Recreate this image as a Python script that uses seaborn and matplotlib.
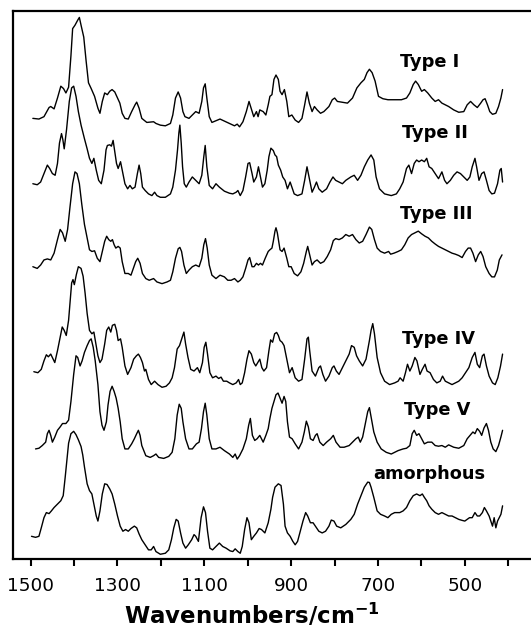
import matplotlib
matplotlib.use("Agg")
import matplotlib.pyplot as plt
import numpy as np
import pandas as pd
import seaborn as sns

# ---------------- data (wavenumber in cm-1, relative absorbance in a.u.) ----------------
type1_wn = [1494.6,1480.6,1469.0,1457.3,1453.4,1445.7,1437.9,1430.2,1424.0,1418.5,
            1412.3,1406.9,1403.0,1397.6,1391.3,1387.5,1383.6,1377.4,1372.0,1366.5,
            1360.3,1352.5,1344.8,1340.1,1334.7,1329.2,1323.0,1317.6,1312.2,1306.0,
            1299.7,1294.3,1288.9,1282.6,1274.9,1267.1,1259.3,1255.5,1250.0,1243.8,
            1232.2,1216.6,1211.2,1201.1,1189.5,1177.8,1172.4,1166.2,1160.0,1154.5,
            1149.1,1144.4,1135.1,1127.4,1119.6,1111.8,1105.6,1101.7,1097.8,1094.0,
            1088.5,1082.3,1063.7,1042.0,1030.3,1024.1,1018.7,1010.9,1003.1,996.9,
            991.5,986.0,979.8,976.0,972.1,964.3,958.1,952.7,948.8,944.1,
            939.5,934.8,929.4,925.5,920.8,915.4,909.9,905.3,898.3,890.6,
            882.8,875.0,868.8,863.4,858.0,851.7,846.3,840.1,832.3,824.6,
            812.9,805.2,799.7,793.5,770.2,758.6,748.5,739.2,731.4,725.2,
            719.7,713.5,706.6,698.8,688.7,677.0,660.0,646.0,634.3,626.6,
            618.8,613.4,607.2,599.4,593.2,585.4,576.1,568.3,560.6,552.8,
            537.3,525.6,514.0,502.4,494.6,486.8,479.1,471.3,463.5,458.1,
            453.4,447.9,442.6,436.3,428.6,422.4,417.0,413.1]
type1_int = [2.2,2.0,2.7,5.4,5.7,5.0,8.2,11.7,11.0,9.7,
             11.4,20.7,28.7,29.7,31.2,32.0,29.7,26.2,19.2,12.7,
             11.0,8.7,5.2,3.7,7.2,9.7,9.2,10.2,10.7,10.0,
             8.2,6.7,3.7,2.2,2.0,4.2,6.2,7.0,5.2,2.2,
             1.0,1.2,0.7,0.2,0.0,0.7,3.2,8.2,10.0,8.2,
             4.2,2.7,2.2,3.2,4.2,3.7,7.2,11.2,12.4,8.2,
             2.7,1.0,2.0,0.7,0.0,0.5,-0.3,1.2,4.2,7.2,
             5.0,2.7,4.2,2.7,4.7,4.2,3.2,6.2,8.7,9.2,
             13.7,15.0,13.7,10.2,9.2,10.7,7.2,2.7,3.2,1.7,
             1.0,2.2,6.2,10.0,6.7,4.2,5.7,4.7,3.7,4.2,
             5.7,7.7,8.2,7.2,6.7,8.2,11.2,12.7,13.7,15.7,
             16.7,15.7,13.2,8.7,8.0,7.7,7.7,7.7,8.2,9.7,
             12.2,13.2,12.2,10.2,10.7,9.7,8.2,7.2,7.7,6.7,
             5.7,4.7,4.0,4.2,6.2,7.2,6.2,5.4,6.7,7.7,
             8.0,6.2,4.2,3.4,3.7,5.7,8.2,10.7]

type2_wn = [1494.6,1484.5,1476.7,1469.0,1461.2,1455.8,1449.6,1443.3,1437.9,1433.3,
            1428.6,1425.5,1422.4,1417.0,1410.7,1405.3,1400.6,1395.2,1389.8,1383.6,
            1375.8,1369.6,1364.2,1358.7,1354.1,1348.6,1343.1,1337.0,1330.8,1326.1,
            1323.0,1317.6,1313.7,1309.8,1306.0,1302.0,1298.2,1292.7,1288.9,1282.6,
            1276.4,1271.0,1265.6,1259.3,1253.9,1250.0,1246.2,1242.3,1236.0,1228.3,
            1220.5,1214.3,1208.9,1201.1,1189.5,1177.8,1172.4,1166.2,1161.5,1158.4,
            1156.1,1153.0,1149.9,1146.0,1141.3,1135.1,1127.4,1119.6,1111.8,1105.6,
            1101.0,1097.8,1094.0,1088.5,1080.8,1073.0,1065.2,1053.6,1042.0,1034.2,
            1026.4,1022.5,1017.1,1010.9,1004.7,999.2,995.4,989.9,986.0,979.8,
            975.2,970.5,965.9,960.4,955.0,951.1,946.5,941.0,937.1,933.3,
            929.4,924.0,919.3,913.9,908.4,902.2,898.3,892.9,885.1,875.0,
            868.8,863.4,858.0,851.7,846.3,841.6,836.2,828.4,818.3,810.6,
            803.6,797.4,789.6,781.9,774.1,762.5,754.7,746.9,739.2,731.4,
            723.6,715.9,709.6,704.3,696.5,684.8,669.4,657.6,649.9,642.1,
            634.3,628.9,622.7,616.5,611.0,605.6,599.4,593.2,587.8,582.3,
            576.1,568.3,560.6,552.8,546.6,541.2,533.4,525.6,517.9,510.1,
            502.4,494.6,488.4,483.0,476.7,472.9,467.4,461.2,455.8,450.3,
            444.1,437.9,431.7,424.7,419.3,416.2,413.1]
type2_int = [4.0,3.7,4.5,7.0,9.5,8.5,7.0,6.5,10.0,16.0,
             18.8,17.0,14.3,20.0,28.3,32.3,32.8,29.8,25.3,21.3,
             17.3,14.3,11.5,10.0,11.5,8.0,5.0,4.0,8.0,14.0,
             15.3,15.5,15.1,16.8,13.5,10.0,8.5,10.5,8.0,4.0,
             2.5,3.5,2.5,3.0,7.0,9.5,7.0,3.0,2.0,1.0,
             0.5,1.5,0.5,0.0,0.0,1.0,3.0,8.0,14.0,19.0,
             21.3,16.0,9.0,4.0,3.0,4.5,6.0,5.0,4.0,6.5,
             12.0,15.3,9.0,3.5,2.5,4.0,3.0,1.8,1.2,1.0,
             1.5,2.0,0.5,2.0,6.0,10.0,10.2,7.0,4.5,6.0,
             9.0,6.0,3.0,4.0,8.0,12.0,14.5,13.8,12.5,12.0,
             9.5,8.0,6.0,5.0,2.5,4.5,3.0,1.0,0.5,1.0,
             5.0,9.0,5.5,1.5,3.0,4.5,2.5,1.5,2.5,4.5,
             6.0,5.0,4.5,4.0,5.0,6.0,6.5,5.0,6.5,9.0,
             11.0,12.5,11.0,6.0,2.5,1.0,0.5,1.0,2.5,4.5,
             8.5,9.5,7.0,10.0,11.0,10.5,11.0,10.5,11.5,9.0,
             8.5,7.0,5.5,7.5,5.0,4.0,5.0,6.5,7.5,7.0,
             6.0,5.0,6.0,9.0,11.5,9.0,5.0,7.0,7.5,5.0,
             2.0,1.0,1.2,4.0,8.0,8.5,4.5]

type3_wn = [1494.6,1484.5,1476.7,1469.0,1461.2,1453.4,1445.7,1437.9,1431.7,1426.3,
            1420.1,1414.6,1409.2,1403.0,1397.6,1392.9,1387.5,1382.0,1375.8,1369.6,
            1364.2,1358.7,1352.5,1346.3,1340.1,1334.7,1329.2,1324.6,1319.9,1315.2,
            1311.4,1307.5,1303.6,1298.2,1293.5,1288.9,1282.6,1274.9,1268.7,1263.2,
            1257.8,1253.1,1247.7,1242.3,1234.5,1226.7,1216.6,1208.9,1197.2,1185.6,
            1177.8,1172.4,1166.2,1160.0,1156.1,1152.2,1146.8,1141.3,1135.1,1127.4,
            1119.6,1111.8,1105.6,1101.0,1097.1,1093.2,1088.5,1082.3,1073.0,1063.7,
            1053.6,1045.8,1038.1,1030.3,1022.5,1017.1,1010.9,1004.7,999.2,995.4,
            989.9,985.3,979.8,975.2,970.5,965.9,959.6,952.7,948.8,944.1,
            941.0,937.1,934.8,931.7,925.5,920.8,916.2,909.9,905.3,899.9,
            892.9,885.1,877.4,871.1,864.9,861.8,857.2,851.7,846.3,840.1,
            832.3,824.6,816.8,809.0,802.8,797.4,789.6,781.9,774.1,766.3,
            758.6,750.8,743.1,735.3,727.5,719.7,714.3,708.1,701.9,694.1,
            684.8,675.5,670.8,663.1,653.7,646.0,638.2,630.5,622.7,614.9,
            607.2,599.4,591.6,583.9,576.1,568.3,560.6,552.8,545.0,537.3,
            529.5,521.8,514.0,506.2,498.5,492.3,486.8,481.4,475.2,469.0,
            463.5,458.1,451.9,444.1,437.9,431.7,425.3,420.6,414.4]
type3_int = [5.0,4.5,5.5,7.0,7.3,7.0,9.0,13.0,16.0,15.0,
             12.5,16.0,22.5,29.5,33.0,32.5,29.5,23.5,17.5,13.5,
             10.0,9.5,9.7,7.5,6.5,9.5,12.5,14.0,13.0,12.5,
             13.0,11.5,10.5,11.0,10.5,6.5,3.0,3.0,2.5,4.5,
             6.5,7.5,6.0,3.0,1.5,1.0,1.5,0.5,0.0,0.5,
             1.0,3.5,7.5,10.3,10.7,9.5,5.5,3.0,4.0,5.0,
             5.5,5.0,7.5,11.5,13.3,10.5,5.5,2.5,1.5,2.5,
             2.0,1.0,1.0,1.5,0.5,1.0,2.0,4.5,7.0,7.7,
             5.0,5.0,6.0,5.5,6.0,5.5,7.5,9.5,10.0,10.5,
             12.5,15.5,16.5,15.0,10.0,9.5,10.5,7.5,5.0,5.0,
             3.0,2.3,3.5,6.0,9.5,11.0,8.5,5.5,6.5,7.0,
             6.0,6.5,8.0,10.0,12.7,13.3,13.0,13.5,14.5,14.0,
             14.5,13.0,12.0,12.5,14.5,16.7,16.0,13.0,10.5,9.5,
             9.0,9.5,8.7,9.0,9.5,10.0,11.5,13.5,14.5,15.0,
             15.5,14.7,14.0,13.5,12.5,11.7,11.0,10.5,10.0,9.5,
             9.0,8.7,8.3,7.7,9.5,10.5,10.5,9.0,6.5,8.5,
             9.5,8.0,5.0,3.0,2.0,2.0,4.0,7.0,8.5]

type4_wn = [1492.3,1483.0,1475.2,1469.0,1463.5,1458.9,1453.4,1448.8,1444.1,1437.9,
            1431.7,1427.0,1422.4,1417.7,1412.3,1408.4,1405.3,1402.2,1399.1,1394.4,
            1389.8,1383.6,1378.9,1374.3,1369.6,1364.2,1358.7,1354.1,1349.4,1344.8,
            1340.1,1335.4,1329.2,1324.6,1319.9,1315.2,1311.4,1306.0,1302.0,1298.2,
            1292.7,1288.9,1282.6,1276.4,1268.7,1262.5,1256.2,1251.6,1246.9,1242.3,
            1237.6,1234.5,1228.3,1222.1,1214.3,1206.5,1197.2,1187.9,1180.1,1173.9,
            1168.5,1162.3,1156.9,1150.6,1146.8,1142.9,1137.4,1131.2,1123.5,1115.7,
            1110.3,1104.1,1100.2,1096.3,1092.4,1087.0,1080.8,1073.0,1066.8,1061.3,
            1055.9,1048.2,1042.0,1034.2,1026.4,1021.0,1017.1,1012.5,1007.0,1001.6,
            997.0,991.5,986.0,981.4,976.7,972.1,967.4,962.7,956.5,951.1,
            947.2,942.6,937.9,933.3,929.4,925.5,920.8,916.2,909.9,903.7,
            897.6,890.6,882.8,875.0,868.8,863.4,860.3,857.2,851.7,844.0,
            836.2,832.3,826.9,820.7,812.9,805.2,801.3,795.9,789.6,781.9,
            774.1,766.3,760.9,754.7,749.3,743.1,735.3,727.5,719.7,715.9,
            712.0,708.1,701.9,694.1,684.8,673.2,661.5,653.7,649.1,642.1,
            636.7,632.0,626.6,621.2,615.0,610.3,603.3,597.9,591.6,587.0,
            580.0,572.2,564.5,556.7,551.3,545.0,537.3,529.5,521.8,514.0,
            506.2,498.5,490.7,483.0,476.7,471.3,465.9,459.6,455.8,450.3,
            444.1,436.3,430.1,424.0,417.8,413.1]
type4_int = [4.6,4.3,5.3,7.8,9.6,9.0,9.8,8.6,7.3,10.8,
             14.8,17.8,16.8,15.3,19.8,25.8,30.8,31.8,30.3,33.3,
             35.6,35.1,32.8,27.8,21.8,16.8,15.8,16.3,12.8,9.3,
             7.3,8.3,12.8,16.8,17.8,16.3,18.3,18.6,16.8,13.8,
             14.3,11.8,6.3,3.8,5.8,8.3,9.3,9.8,8.8,7.3,
             4.8,5.3,2.3,0.8,1.8,0.8,0.0,0.3,1.3,2.8,
             5.8,11.3,12.3,14.8,16.3,12.8,8.8,5.3,4.8,5.8,
             4.3,7.3,11.8,13.3,9.8,4.3,2.8,3.3,2.6,3.0,
             1.8,1.8,1.3,0.8,1.3,2.3,0.8,1.3,4.3,8.3,
             10.8,9.8,7.3,6.3,7.3,8.3,5.8,4.8,5.8,10.8,
             14.0,13.3,15.8,16.2,15.3,13.8,13.3,12.3,8.3,4.3,
             5.8,2.8,1.8,2.3,8.3,14.3,14.8,10.8,4.8,3.3,
             5.8,6.3,3.8,1.8,3.3,5.8,6.3,4.8,3.8,5.8,
             7.8,9.8,12.3,11.8,9.3,7.8,6.3,8.3,13.8,16.8,
             18.8,15.8,8.8,4.3,1.8,0.8,1.3,1.8,2.8,1.8,
             4.3,6.8,4.8,6.3,8.8,7.8,3.8,5.3,6.8,4.8,
             4.3,2.3,1.3,1.8,3.3,1.8,1.3,0.8,1.3,1.8,
             2.8,4.3,5.8,8.8,10.3,6.8,5.8,9.3,9.8,6.3,
             3.3,1.3,0.8,2.8,6.3,9.8]

type5_wn = [1488.4,1480.6,1472.9,1465.1,1461.2,1457.3,1453.4,1449.6,1444.1,1437.9,
            1431.7,1426.3,1418.5,1412.3,1406.9,1400.6,1395.2,1391.3,1385.9,1381.2,
            1375.8,1369.6,1364.2,1360.3,1355.6,1351.0,1344.8,1340.1,1335.4,1330.8,
            1325.3,1321.5,1316.8,1312.1,1307.5,1302.8,1298.2,1293.5,1288.9,1282.6,
            1274.9,1267.1,1260.9,1255.5,1251.6,1247.7,1243.8,1234.5,1224.4,1216.6,
            1211.2,1205.0,1193.3,1181.7,1173.9,1167.7,1162.3,1157.6,1153.0,1149.1,
            1142.9,1135.1,1127.4,1118.0,1111.8,1106.4,1101.7,1097.8,1094.0,1088.5,
            1082.3,1073.0,1063.7,1053.6,1042.0,1034.2,1028.8,1024.1,1018.7,1010.9,
            1003.1,997.7,993.8,989.1,983.7,978.3,972.1,968.2,964.3,958.1,
            952.7,948.8,944.1,939.5,934.8,930.1,925.5,920.8,916.2,912.3,
            908.4,903.7,897.6,890.6,882.8,875.0,869.6,864.9,860.3,855.6,
            849.4,844.0,840.1,833.9,826.1,818.3,809.0,802.8,796.6,787.3,
            778.0,766.3,758.6,750.8,745.4,740.7,735.3,729.8,723.6,719.7,
            715.9,709.6,701.9,692.6,681.0,669.4,661.5,653.7,642.1,634.3,
            626.6,621.2,616.5,611.0,605.6,599.4,593.2,585.4,576.1,568.3,
            560.6,552.8,545.0,537.3,525.6,514.0,502.4,494.6,486.8,481.4,
            476.7,471.3,465.9,461.2,455.8,450.3,445.6,440.2,434.8,428.6,
            422.4,417.0,413.1]
type5_int = [3.0,3.2,4.0,5.0,7.5,8.5,7.0,5.0,6.5,8.5,
             9.5,10.5,10.5,11.5,17.0,25.0,30.5,30.0,27.5,29.0,
             31.5,33.5,35.0,35.5,33.0,29.0,22.0,14.0,10.0,8.5,
             11.0,16.0,20.0,21.5,20.0,18.0,15.0,11.0,6.0,3.0,
             3.0,4.5,6.0,7.5,8.5,7.0,4.0,1.0,0.5,1.0,
             1.5,0.5,0.2,0.8,2.0,6.0,13.0,16.2,15.0,11.0,
             6.0,3.0,3.0,4.5,5.0,9.0,14.0,16.5,13.0,6.0,
             3.0,3.0,3.5,2.5,1.5,0.5,1.5,0.0,1.0,3.0,
             6.0,10.0,12.0,7.0,5.5,6.0,7.0,6.0,5.0,7.0,
             9.0,12.0,15.0,17.0,19.0,19.5,18.0,16.5,18.5,17.0,
             11.0,6.5,6.0,4.5,3.0,5.0,8.0,11.2,9.5,6.0,
             5.5,7.0,7.5,5.0,4.0,5.0,6.0,7.0,5.0,3.5,
             3.5,4.0,5.0,6.0,6.5,5.0,6.5,10.0,14.0,15.2,
             12.5,8.0,5.0,3.0,2.0,1.5,2.0,2.5,3.0,3.2,
             4.0,7.5,8.5,7.0,7.5,6.0,4.5,5.0,5.0,4.0,
             3.8,4.0,3.5,4.2,3.5,3.2,4.0,6.0,7.2,8.0,
             7.5,9.0,8.2,7.0,9.2,10.5,8.5,5.0,3.0,2.2,
             4.0,6.5,8.5]

amorph_wn = [1497.7,1488.4,1480.6,1475.2,1469.0,1463.5,1457.3,1451.9,1445.7,1437.9,
             1430.2,1424.7,1420.1,1416.2,1412.3,1406.9,1400.6,1395.2,1389.8,1383.6,
             1379.7,1375.8,1369.6,1364.2,1358.7,1352.5,1348.6,1344.8,1340.1,1334.7,
             1329.2,1323.8,1317.6,1312.1,1306.0,1299.7,1293.5,1287.3,1281.1,1274.9,
             1268.7,1260.9,1255.5,1250.0,1243.8,1236.0,1228.3,1222.1,1216.6,1211.2,
             1201.1,1189.5,1181.7,1175.5,1170.1,1164.6,1160.0,1154.5,1149.1,1142.9,
             1136.7,1128.9,1123.5,1119.6,1113.4,1107.2,1101.7,1097.1,1092.4,1087.0,
             1080.8,1073.0,1065.2,1057.5,1049.7,1040.4,1034.2,1028.8,1022.5,1017.1,
             1012.5,1007.0,1001.6,997.0,991.5,986.0,979.8,973.6,968.2,960.4,
             952.7,946.5,942.6,937.1,929.4,923.2,917.7,913.9,908.4,902.2,
             896.0,890.6,885.1,878.9,872.7,866.5,861.8,855.6,849.4,844.0,
             836.2,828.4,820.7,812.9,807.5,801.3,795.1,785.7,774.1,762.5,
             754.7,746.9,739.2,731.4,723.6,719.7,715.9,709.6,701.9,694.1,
             684.8,677.1,669.4,661.5,649.9,642.1,634.3,626.6,618.8,611.0,
             603.3,597.9,593.2,587.8,582.3,576.1,568.3,560.6,552.8,545.0,
             537.3,529.5,521.8,514.0,506.2,500.1,494.6,489.2,483.0,476.7,
             471.3,465.9,459.6,455.0,450.3,444.1,440.2,436.3,432.5,428.6,
             424.7,420.8,416.9,413.1]
amorph_int = [5.3,5.0,5.3,7.8,10.8,12.3,12.0,12.8,13.8,14.8,
              15.8,17.3,22.8,27.8,32.8,35.6,36.3,35.3,33.8,31.8,
              29.3,25.8,20.8,18.8,17.8,13.8,11.3,9.8,12.8,17.8,
              20.8,20.6,19.3,17.8,14.8,11.3,8.3,6.8,7.3,6.8,
              7.6,8.3,7.8,6.0,4.3,2.8,1.3,1.3,2.3,0.8,
              0.0,0.3,1.3,4.3,7.8,10.3,9.8,6.3,3.3,1.8,
              2.8,4.3,5.8,5.3,3.8,10.8,14.0,12.3,6.8,1.8,
              1.3,2.3,3.3,2.3,1.8,1.0,0.8,1.6,0.8,0.3,
              2.3,7.3,10.8,9.3,4.3,5.3,6.3,7.6,7.3,6.3,
              9.3,13.3,16.8,19.8,20.8,20.3,14.8,8.3,6.3,5.3,
              3.8,2.8,3.8,6.8,9.8,12.3,11.3,9.3,9.3,8.3,
              6.8,6.3,6.8,8.3,10.1,9.8,8.3,7.8,8.8,10.3,
              11.8,14.8,17.3,19.8,21.3,21.2,19.8,16.8,12.8,11.8,
              11.3,10.8,11.8,12.3,12.3,12.8,13.8,15.8,17.3,17.8,
              17.3,17.8,16.8,15.8,14.3,13.3,12.3,11.8,12.3,11.8,
              11.3,11.3,10.8,10.3,10.0,9.8,10.3,10.8,10.8,12.3,
              11.3,11.3,12.3,13.8,12.8,11.3,9.8,8.3,10.8,7.8,
              9.8,10.8,11.8,14.3]

names = ["Type I", "Type II", "Type III", "Type IV", "Type V", "amorphous"]
offsets = [127.9, 106.8, 81.3, 50.7, 29.5, 1.4]
label_wn = [649.0, 644.6, 649.0, 644.6, 640.0, 711.4]
label_y = [145.3, 124.2, 100.4, 63.5, 42.5, 23.6]
tick_vals = [1500, 1400, 1300, 1200, 1100, 1000, 900, 800, 700, 600, 500, 400]
tick_text = ["1500", "", "1300", "", "1100", "", "900", "", "700", "", "500", ""]

spectra_wn = [type1_wn, type2_wn, type3_wn, type4_wn, type5_wn, amorph_wn]
spectra_int = [type1_int, type2_int, type3_int, type4_int, type5_int, amorph_int]

frames = []
for name, wn, inten, off in zip(names, spectra_wn, spectra_int, offsets):
    frames.append(pd.DataFrame({"wavenumber": wn,
                                "absorbance": np.asarray(inten) + off,
                                "sample": name}))
df = pd.concat(frames, ignore_index=True)

# ---------------- plot ----------------
sns.set_theme(style="ticks")
plt.rcParams["font.family"] = ["DejaVu Sans"]
plt.rcParams["mathtext.fontset"] = "dejavusans"
plt.rcParams["text.color"] = "black"
plt.rcParams["axes.labelcolor"] = "black"
plt.rcParams["xtick.color"] = "black"
plt.rcParams["xtick.labelcolor"] = "black"

fig = plt.figure(figsize=(5.31, 6.28), dpi=100)
ax = fig.add_axes([13 / 531, 69 / 628, 521.2 / 531, 548 / 628])

for name in names:
    sub = df[df["sample"] == name]
    sns.lineplot(data=sub, x="wavenumber", y="absorbance", ax=ax,
                 color="black", linewidth=1.0, sort=False, estimator=None,
                 legend=False)

for name, xw, yl in zip(names, label_wn, label_y):
    ax.text(xw, yl, name, ha="left", va="baseline", fontsize=12.8,
            fontweight="bold", color="black")

ax.set_xlim(1540.3, 340.3)
ax.set_ylim(0, 161.8)
ax.set_xticks(tick_vals)
ax.set_xticklabels(tick_text)
ax.set_yticks([])
ax.set_ylabel("")
ax.tick_params(axis="x", direction="out", length=4.8, width=1.5,
               pad=8.4, labelsize=13.2, colors="black", labelcolor="black")
for side in ["left", "top", "bottom"]:
    ax.spines[side].set_linewidth(1.6)
    ax.spines[side].set_color("black")
ax.spines["right"].set_visible(False)

ax.set_xlabel(r"Wavenumbers/cm$^{\mathbf{-1}}$", fontsize=16.5,
              fontweight="bold", color="black")
ax.xaxis.label.set_va("baseline")
ax.xaxis.set_label_coords(0.4576, -0.1185)

fig.savefig("out.png", dpi=100)
